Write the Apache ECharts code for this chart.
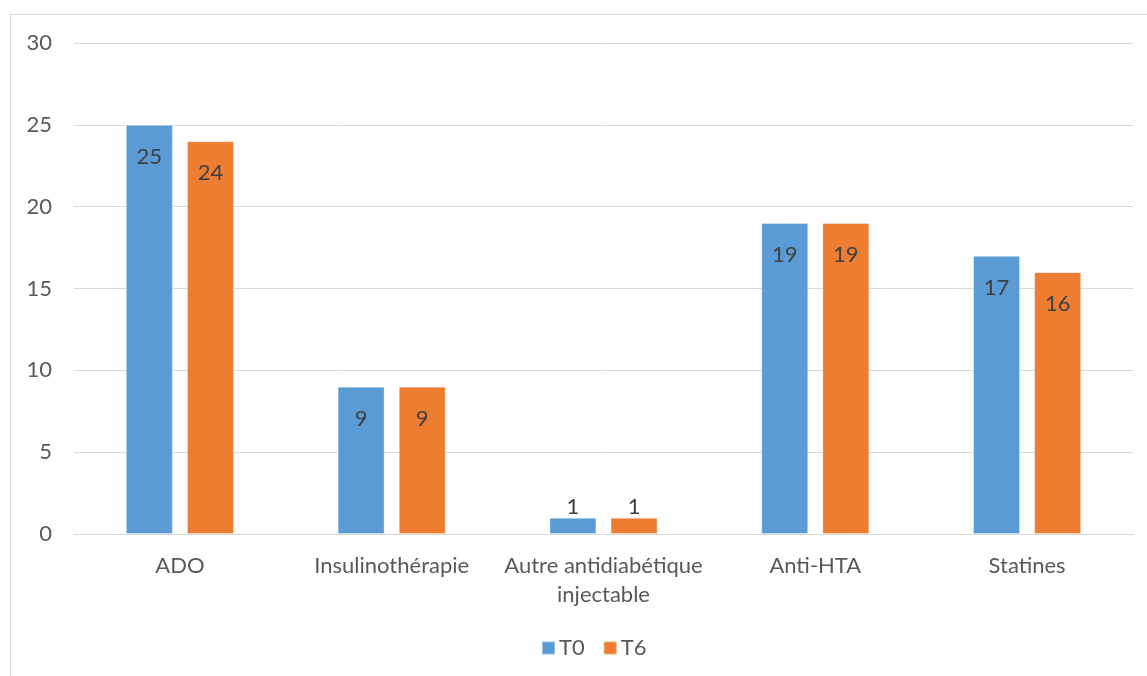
<!DOCTYPE html>
<html>
<head>
<meta charset="utf-8">
<script src="https://cdn.jsdelivr.net/npm/echarts@6/dist/echarts.min.js"></script>
<style>
  html, body { margin: 0; padding: 0; background: #fff; }
  #frame { position: absolute; left: 10px; top: 14px; width: 1160px; height: 680px; border: 1px solid #d9d9d9; box-sizing: border-box; }
  #chart { width: 1147px; height: 676px; position: absolute; left: 0; top: 0; }
</style>
</head>
<body>
<div id="frame"></div>
<div id="chart"></div>
<script>
// Traitements : nombre de patients à T0 et T6
const categories = ['ADO', 'Insulinothérapie', 'Autre antidiabétique\ninjectable', 'Anti-HTA', 'Statines'];
const seriesNames = ['T0', 'T6'];
const valuesT0 = [25, 9, 1, 19, 17];
const valuesT6 = [24, 9, 1, 19, 16];
const yTicks = { min: 0, max: 30, interval: 5 };

const FONT = 'Lato, "Open Sans", sans-serif';
const FS = 22;
const colors = ['#5B9BD5', '#ED7D31'];

// Short bars get their label above the bar instead of inside
function toData(values) {
  return values.map(v => v < 3
    ? { value: v, label: { position: 'top', distance: 0 } }
    : v);
}

function makeSeries(name, values, color) {
  return {
    name: name,
    type: 'bar',
    data: toData(values),
    barWidth: 47,
    barGap: '30%',
    itemStyle: { color: color, borderColor: 'rgba(255,255,255,0.35)', borderWidth: 1 },
    label: {
      show: true,
      position: 'insideTop',
      distance: 21,
      color: '#404040',
      fontFamily: FONT,
      fontSize: FS
    },
    emphasis: { disabled: true }
  };
}

const chart = echarts.init(document.getElementById('chart'), null, { renderer: 'canvas' });
chart.setOption({
  animation: false,
  color: colors,
  grid: { left: 74, right: 14, top: 43, bottom: 142, containLabel: false },
  legend: {
    data: seriesNames,
    bottom: 12,
    left: 536,
    itemWidth: 13,
    itemHeight: 13,
    itemGap: 18,
    icon: 'rect',
    textStyle: { color: '#595959', fontFamily: FONT, fontSize: FS, padding: [0, 0, 0, -1] }
  },
  xAxis: {
    type: 'category',
    data: categories,
    axisLine: { lineStyle: { color: '#d9d9d9', width: 1 } },
    axisTick: { show: false },
    axisLabel: {
      color: '#595959',
      fontFamily: FONT,
      fontSize: FS,
      margin: 17,
      lineHeight: 29,
      interval: 0
    }
  },
  yAxis: {
    type: 'value',
    min: yTicks.min,
    max: yTicks.max,
    interval: yTicks.interval,
    axisLine: { show: false },
    axisTick: { show: false },
    splitLine: { lineStyle: { color: '#d9d9d9', width: 1 } },
    axisLabel: {
      color: '#595959',
      fontFamily: FONT,
      fontSize: FS,
      margin: 22
    }
  },
  series: [
    makeSeries(seriesNames[0], valuesT0, colors[0]),
    makeSeries(seriesNames[1], valuesT6, colors[1])
  ]
});
</script>
</body>
</html>
